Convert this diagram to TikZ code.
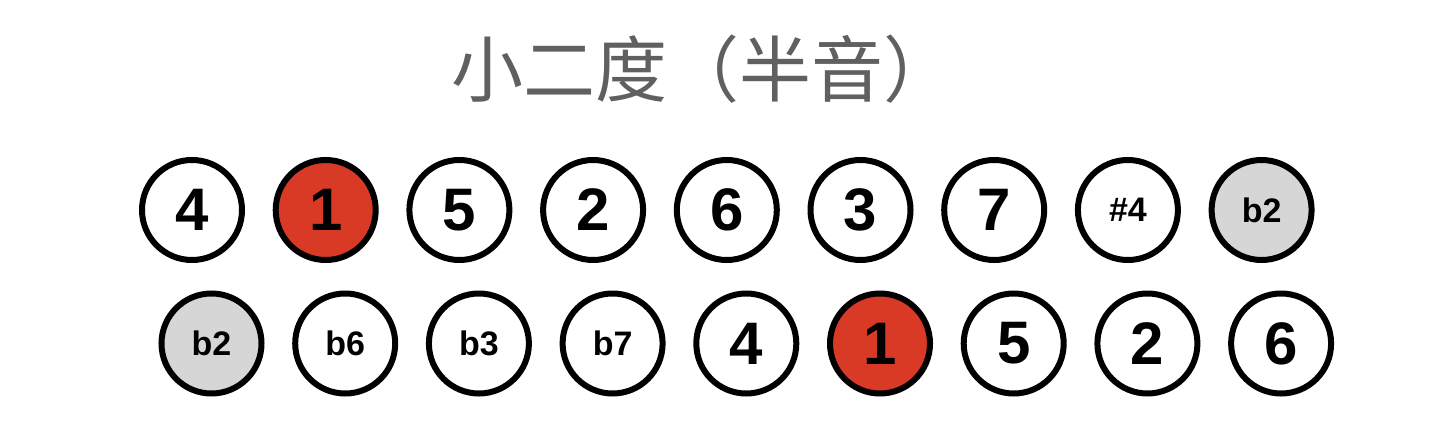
\documentclass[tikz,border=0pt]{standalone}
\usepackage{fontspec}
\setmainfont{Liberation Sans}
\newfontfamily\cjk{Noto Sans CJK SC}
\begin{document}
\begin{tikzpicture}[x=0.5pt,y=-0.5pt,
    note/.style={circle,draw=black,line width=3pt,minimum size=50pt,inner sep=0pt,
      fill=white,font=\bfseries\fontsize{30}{30}\selectfont},
    tonic/.style={note,fill=tonicred},
    alt/.style={note,font=\bfseries\fontsize{17}{17}\selectfont},
    altgrey/.style={alt,fill=altgrey}]
    \definecolor{tonicred}{RGB}{217,58,38}
    \definecolor{altgrey}{RGB}{214,214,214}
    \definecolor{titlegrey}{RGB}{96,96,96}
    % Page frame
    \useasboundingbox (0,0) rectangle (1439,433);
    % Title
    \node[font=\cjk\fontsize{36}{36}\selectfont,text=titlegrey] (title) at (703,69) {小二度（半音）};
    % Upper row
    \foreach \lab/\sty [count=\i] in {4/note,1/tonic,5/note,2/note,6/note,3/note,7/note,\#4/alt,b2/altgrey}
        \node[\sty] (t\i) at ({192+133.7*(\i-1)},210) {\lab};
    % Lower row
    \foreach \lab/\sty [count=\i] in {b2/altgrey,b6/alt,b3/alt,b7/alt,4/note,1/tonic,5/note,2/note,6/note}
        \node[\sty] (b\i) at ({211.5+133.7*(\i-1)},343.5) {\lab};
\end{tikzpicture}
\end{document}
